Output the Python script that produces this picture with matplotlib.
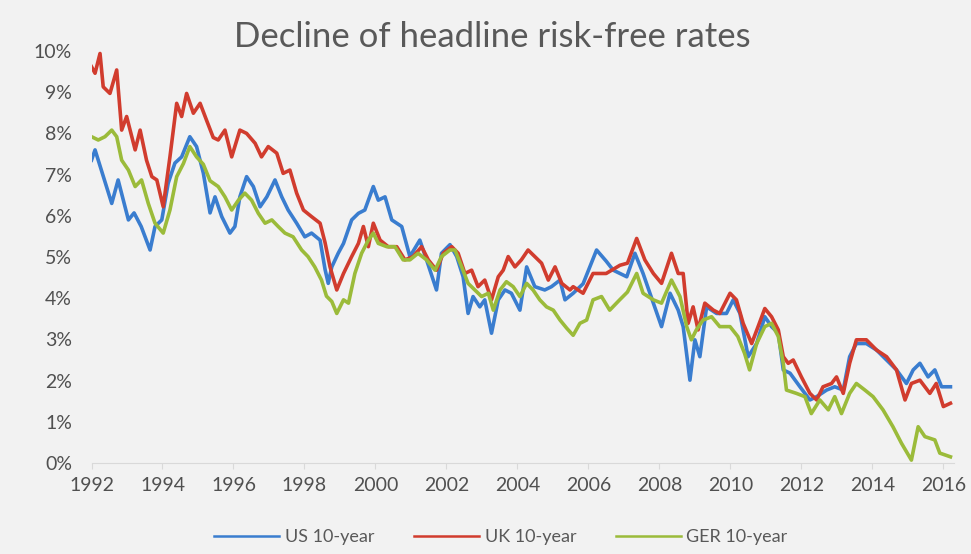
import matplotlib
matplotlib.use("Agg")
import matplotlib.pyplot as plt
from matplotlib.ticker import FuncFormatter

# values (year, % yield)
us_year = [1992.00, 1992.10, 1992.57, 1992.75, 1993.04, 1993.20, 1993.40, 1993.65, 1993.79, 1993.98,
           1994.16, 1994.35, 1994.54, 1994.77, 1994.96, 1995.15, 1995.34, 1995.48, 1995.67, 1995.90,
           1996.04, 1996.18, 1996.37, 1996.56, 1996.75, 1996.94, 1997.17, 1997.36, 1997.54, 1997.78,
           1998.01, 1998.20, 1998.44, 1998.58, 1998.67, 1998.77, 1998.95, 1999.10, 1999.33, 1999.52,
           1999.70, 1999.94, 2000.08, 2000.27, 2000.46, 2000.74, 2000.97, 2001.25, 2001.44, 2001.72,
           2001.86, 2002.10, 2002.29, 2002.47, 2002.61, 2002.75, 2002.94, 2003.08, 2003.27, 2003.46,
           2003.65, 2003.83, 2004.07, 2004.26, 2004.49, 2004.77, 2004.96, 2005.20, 2005.34, 2005.57,
           2005.85, 2006.23, 2006.50, 2006.70, 2006.89, 2007.08, 2007.31, 2007.54, 2007.83, 2008.06,
           2008.30, 2008.53, 2008.67, 2008.86, 2009.00, 2009.14, 2009.33, 2009.61, 2009.89, 2010.08,
           2010.27, 2010.50, 2010.74, 2010.97, 2011.16, 2011.35, 2011.49, 2011.68, 2011.96, 2012.24,
           2012.43, 2012.71, 2012.94, 2013.18, 2013.36, 2013.55, 2013.83, 2014.12, 2014.40, 2014.68,
           2014.96, 2015.15, 2015.34, 2015.57, 2015.76, 2015.95, 2016.20]
us_rate = [7.35, 7.60, 6.30, 6.87, 5.90, 6.07, 5.74, 5.17, 5.74, 5.90,
           6.79, 7.28, 7.43, 7.92, 7.68, 7.04, 6.07, 6.46, 5.98, 5.58,
           5.74, 6.46, 6.95, 6.71, 6.22, 6.46, 6.87, 6.46, 6.14, 5.82,
           5.49, 5.58, 5.41, 4.70, 4.36, 4.76, 5.09, 5.33, 5.90, 6.06,
           6.14, 6.71, 6.38, 6.46, 5.90, 5.74, 5.01, 5.41, 4.93, 4.20,
           5.09, 5.30, 5.01, 4.52, 3.63, 4.04, 3.79, 3.96, 3.15, 3.96,
           4.20, 4.12, 3.71, 4.76, 4.28, 4.20, 4.28, 4.44, 3.96, 4.12,
           4.35, 5.17, 4.90, 4.68, 4.60, 4.52, 5.09, 4.60, 3.88, 3.31,
           4.12, 3.71, 3.31, 2.01, 2.99, 2.58, 3.79, 3.63, 3.63, 3.96,
           3.63, 2.58, 2.90, 3.55, 3.31, 3.15, 2.26, 2.18, 1.85, 1.53,
           1.61, 1.77, 1.85, 1.77, 2.58, 2.90, 2.90, 2.74, 2.50, 2.26,
           1.93, 2.26, 2.42, 2.09, 2.26, 1.85, 1.85]

uk_year = [1992.00, 1992.10, 1992.24, 1992.33, 1992.52, 1992.71, 1992.85, 1992.99, 1993.23, 1993.37,
           1993.55, 1993.70, 1993.84, 1994.02, 1994.21, 1994.40, 1994.54, 1994.68, 1994.87, 1995.06,
           1995.25, 1995.43, 1995.57, 1995.76, 1995.95, 1996.18, 1996.37, 1996.61, 1996.79, 1996.98,
           1997.22, 1997.40, 1997.59, 1997.78, 1997.97, 1998.20, 1998.44, 1998.58, 1998.72, 1998.91,
           1999.10, 1999.33, 1999.52, 1999.66, 1999.80, 1999.94, 2000.13, 2000.36, 2000.60, 2000.83,
           2001.06, 2001.30, 2001.49, 2001.72, 2001.91, 2002.15, 2002.33, 2002.52, 2002.71, 2002.89,
           2003.08, 2003.27, 2003.46, 2003.60, 2003.74, 2003.93, 2004.11, 2004.30, 2004.49, 2004.68,
           2004.87, 2005.06, 2005.25, 2005.48, 2005.57, 2005.85, 2006.13, 2006.50, 2006.89, 2007.10,
           2007.36, 2007.59, 2007.83, 2008.06, 2008.34, 2008.53, 2008.67, 2008.81, 2008.95, 2009.09,
           2009.28, 2009.52, 2009.70, 2009.99, 2010.17, 2010.36, 2010.60, 2010.78, 2010.97, 2011.16,
           2011.35, 2011.49, 2011.63, 2011.77, 2012.00, 2012.24, 2012.43, 2012.61, 2012.85, 2012.99,
           2013.18, 2013.36, 2013.55, 2013.83, 2014.12, 2014.40, 2014.68, 2014.92, 2015.10, 2015.34,
           2015.62, 2015.80, 2016.00, 2016.20]
uk_rate = [9.62, 9.46, 9.94, 9.13, 8.97, 9.54, 8.08, 8.41, 7.60, 8.08,
           7.35, 6.95, 6.87, 6.22, 7.43, 8.73, 8.41, 8.97, 8.49, 8.73,
           8.30, 7.90, 7.84, 8.08, 7.43, 8.08, 8.00, 7.76, 7.43, 7.68,
           7.52, 7.03, 7.11, 6.55, 6.14, 5.98, 5.82, 5.35, 4.76, 4.20,
           4.60, 5.01, 5.33, 5.74, 5.25, 5.82, 5.41, 5.25, 5.25, 4.93,
           5.01, 5.25, 4.93, 4.68, 5.09, 5.25, 5.09, 4.60, 4.68, 4.28,
           4.44, 3.96, 4.52, 4.68, 5.01, 4.76, 4.93, 5.17, 5.01, 4.85,
           4.44, 4.76, 4.36, 4.20, 4.28, 4.12, 4.60, 4.60, 4.80, 4.85,
           5.45, 4.93, 4.60, 4.36, 5.09, 4.60, 4.60, 3.39, 3.79, 3.23,
           3.88, 3.71, 3.63, 4.12, 3.96, 3.39, 2.90, 3.31, 3.75, 3.55,
           3.23, 2.58, 2.42, 2.50, 2.09, 1.69, 1.53, 1.85, 1.93, 2.09,
           1.69, 2.42, 2.99, 2.99, 2.74, 2.58, 2.26, 1.53, 1.93, 2.01,
           1.69, 1.93, 1.37, 1.45]

ger_year = [1992.00, 1992.19, 1992.38, 1992.57, 1992.71, 1992.85, 1993.04, 1993.23, 1993.41, 1993.60,
            1993.79, 1994.02, 1994.21, 1994.40, 1994.59, 1994.77, 1994.96, 1995.15, 1995.34, 1995.57,
            1995.76, 1995.95, 1996.14, 1996.32, 1996.51, 1996.70, 1996.89, 1997.08, 1997.26, 1997.45,
            1997.68, 1997.92, 1998.10, 1998.29, 1998.48, 1998.62, 1998.77, 1998.91, 1999.10, 1999.24,
            1999.42, 1999.61, 1999.80, 1999.94, 2000.08, 2000.32, 2000.55, 2000.78, 2000.97, 2001.20,
            2001.44, 2001.68, 2001.86, 2002.10, 2002.24, 2002.43, 2002.61, 2002.80, 2002.99, 2003.18,
            2003.32, 2003.51, 2003.69, 2003.88, 2004.07, 2004.26, 2004.44, 2004.63, 2004.82, 2005.01,
            2005.20, 2005.39, 2005.57, 2005.76, 2005.95, 2006.13, 2006.37, 2006.60, 2006.88, 2007.10,
            2007.36, 2007.54, 2007.83, 2008.06, 2008.34, 2008.58, 2008.77, 2008.90, 2009.04, 2009.23,
            2009.47, 2009.70, 2009.99, 2010.21, 2010.40, 2010.54, 2010.74, 2010.97, 2011.16, 2011.35,
            2011.49, 2011.58, 2011.86, 2012.10, 2012.28, 2012.52, 2012.76, 2012.94, 2013.13, 2013.36,
            2013.55, 2013.79, 2014.02, 2014.30, 2014.58, 2014.82, 2015.10, 2015.29, 2015.48, 2015.76,
            2015.90, 2016.20]
ger_rate = [7.92, 7.84, 7.92, 8.08, 7.92, 7.35, 7.11, 6.71, 6.87, 6.30,
            5.82, 5.58, 6.14, 6.95, 7.27, 7.68, 7.43, 7.25, 6.85, 6.71,
            6.46, 6.14, 6.38, 6.55, 6.38, 6.06, 5.82, 5.90, 5.74, 5.58,
            5.49, 5.17, 5.01, 4.76, 4.44, 4.05, 3.92, 3.63, 3.96, 3.88,
            4.60, 5.09, 5.41, 5.58, 5.33, 5.25, 5.25, 4.93, 4.93, 5.09,
            4.93, 4.68, 5.01, 5.17, 5.17, 4.76, 4.36, 4.20, 4.04, 4.12,
            3.71, 4.20, 4.40, 4.28, 4.04, 4.36, 4.20, 3.96, 3.79, 3.71,
            3.47, 3.27, 3.10, 3.39, 3.47, 3.96, 4.04, 3.71, 3.96, 4.15,
            4.60, 4.12, 3.96, 3.88, 4.44, 4.04, 3.31, 2.99, 3.23, 3.47,
            3.55, 3.31, 3.31, 3.07, 2.66, 2.26, 2.90, 3.31, 3.39, 3.07,
            2.42, 1.77, 1.69, 1.61, 1.20, 1.53, 1.29, 1.61, 1.20, 1.69,
            1.93, 1.77, 1.61, 1.29, 0.88, 0.48, 0.07, 0.88, 0.64, 0.56,
            0.24, 0.15]

plt.rcParams['font.family'] = ['Lato', 'DejaVu Sans']
bg = '#f2f2f2'
grey = '#595959'

fig = plt.figure(figsize=(9.71, 5.54), dpi=100, facecolor=bg)
ax = fig.add_axes([91.5/971, 1-463/554, (954-91.5)/971, (463-51)/554])
ax.set_facecolor(bg)

ax.plot(us_year, us_rate, color='#3a7dcf', lw=2.6, label='US 10-year')
ax.plot(uk_year, uk_rate, color='#d13c2e', lw=2.6, label='UK 10-year')
ax.plot(ger_year, ger_rate, color='#9bbb3a', lw=2.6, label='GER 10-year')

ax.set_xlim(1992, 2016.3)
ax.set_ylim(0, 10)
ax.set_xticks(range(1992, 2017, 2))
ax.set_yticks(range(0, 11))
ax.yaxis.set_major_formatter(FuncFormatter(lambda v, p: '%d%%' % v))
for s in ['top', 'right', 'left']:
    ax.spines[s].set_visible(False)
ax.spines['bottom'].set_color('#d9d9d9')
ax.tick_params(axis='y', length=0, pad=14, labelsize=14, labelcolor='#505050')
ax.tick_params(axis='x', length=4, color='#d9d9d9', pad=6, labelsize=14, labelcolor='#505050')

fig.text(492/971, 1-37/554, 'Decline of headline risk-free rates', ha='center', va='center',
         fontsize=25, color=grey)

leg = fig.legend(loc='center', bbox_to_anchor=(501/971, 1-537/554), ncol=3, frameon=False,
                 fontsize=13, handlelength=3.6, handletextpad=0.3, columnspacing=2.2,
                 labelcolor=grey)
for line in leg.get_lines():
    line.set_linewidth(1.8)

fig.savefig('out.png', dpi=100, facecolor=bg)
